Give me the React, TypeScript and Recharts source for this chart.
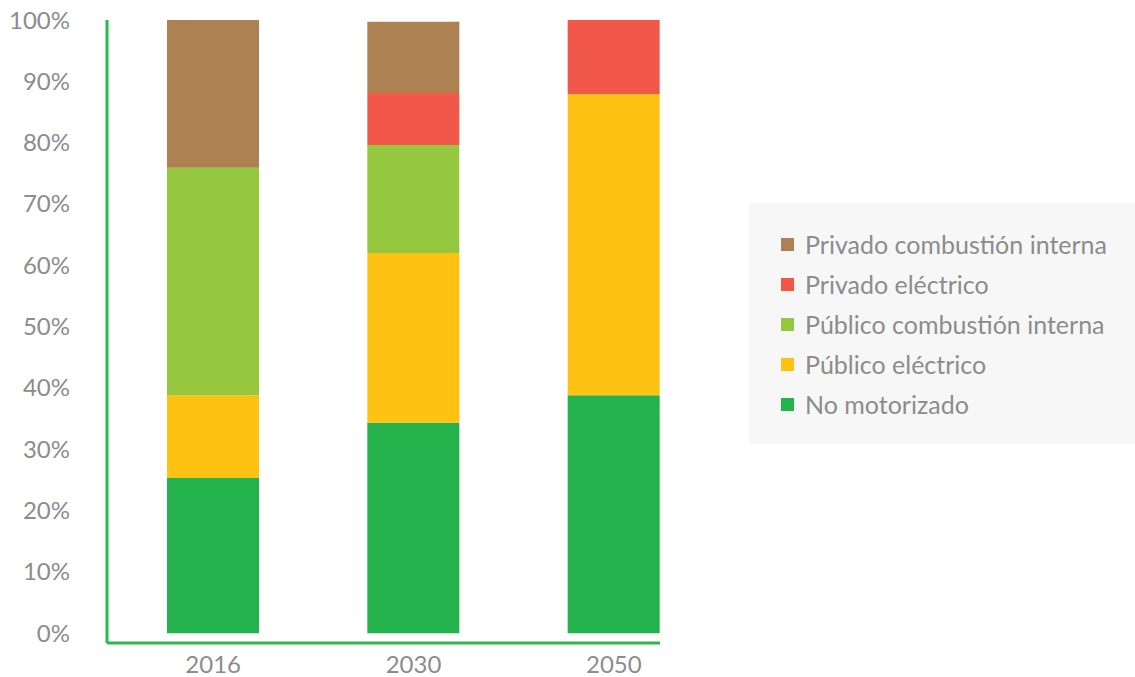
import { BarChart, Bar, XAxis, YAxis, Legend } from 'recharts'

const years = ['2016', '2030', '2050']
const noMotorizado = [25.3, 34.3, 38.8]
const publicoElectrico = [13.5, 27.7, 49.1]
const publicoCombustion = [37.1, 17.6, 0]
const privadoElectrico = [0, 8.5, 12.1]
const privadoCombustion = [24.1, 11.6, 0]
const yTicks = [0, 10, 20, 30, 40, 50, 60, 70, 80, 90, 100]

const SERIES = [
  { key: 'noMotorizado', name: 'No motorizado', color: '#23b24c' },
  { key: 'publicoElectrico', name: 'Público eléctrico', color: '#fdc212' },
  { key: 'publicoCombustion', name: 'Público combustión interna', color: '#95c83e' },
  { key: 'privadoElectrico', name: 'Privado eléctrico', color: '#f2584a' },
  { key: 'privadoCombustion', name: 'Privado combustión interna', color: '#ad8152' },
]

const data = years.map((year, i) => ({
  year,
  noMotorizado: noMotorizado[i],
  publicoElectrico: publicoElectrico[i],
  publicoCombustion: publicoCombustion[i],
  privadoElectrico: privadoElectrico[i],
  privadoCombustion: privadoCombustion[i],
}))

const FONT = 'Lato, sans-serif'
const TEXT = '#8c8c8c'
const AXIS = '#2cb84f'

function LegendBox() {
  // top of the stack first, like the original
  const items = [...SERIES].reverse()
  return (
    <div
      style={{
        background: '#f7f7f7',
        width: 386,
        height: 241,
        boxSizing: 'border-box',
        paddingTop: 21,
        paddingLeft: 32,
        fontFamily: FONT,
      }}
    >
      {items.map(s => (
        <div
          key={s.key}
          style={{ display: 'flex', alignItems: 'center', height: 40 }}
        >
          <span
            style={{ width: 13, height: 13, background: s.color, display: 'inline-block', marginRight: 11 }}
          />
          <span style={{ fontSize: 25, color: TEXT }}>{s.name}</span>
        </div>
      ))}
    </div>
  )
}

export default function App() {
  return (
    <div style={{ position: 'absolute', left: 0, top: 0, width: 1135, height: 677 }}>
      <BarChart
        width={1135}
        height={677}
        data={data}
        margin={{ top: 20, right: 475, left: 27, bottom: 0 }}
      >
        <XAxis
          dataKey="year"
          height={34}
          padding={{ left: 6, right: -54 }}
          axisLine={{ stroke: AXIS, strokeWidth: 3 }}
          tickLine={false}
          tickSize={0}
          tickMargin={13}
          tick={{ fontSize: 24, fill: TEXT, fontFamily: FONT }}
        />
        <YAxis
          width={80}
          domain={[-1.6, 100]}
          ticks={yTicks}
          allowDataOverflow
          tickFormatter={(v: number) => `${v}%`}
          axisLine={{ stroke: AXIS, strokeWidth: 3 }}
          tickLine={false}
          tickSize={0}
          tickMargin={37}
          tick={{ fontSize: 24, fill: TEXT, fontFamily: FONT }}
        />
        <Legend
          layout="vertical"
          align="center"
          verticalAlign="middle"
          content={() => <LegendBox />}
          wrapperStyle={{ left: 749, top: 203, width: 386, height: 241 }}
        />
        {SERIES.map(s => (
          <Bar
            key={s.key}
            dataKey={s.key}
            name={s.name}
            stackId="a"
            fill={s.color}
            barSize={92}
            isAnimationActive={false}
          />
        ))}
      </BarChart>
    </div>
  )
}
